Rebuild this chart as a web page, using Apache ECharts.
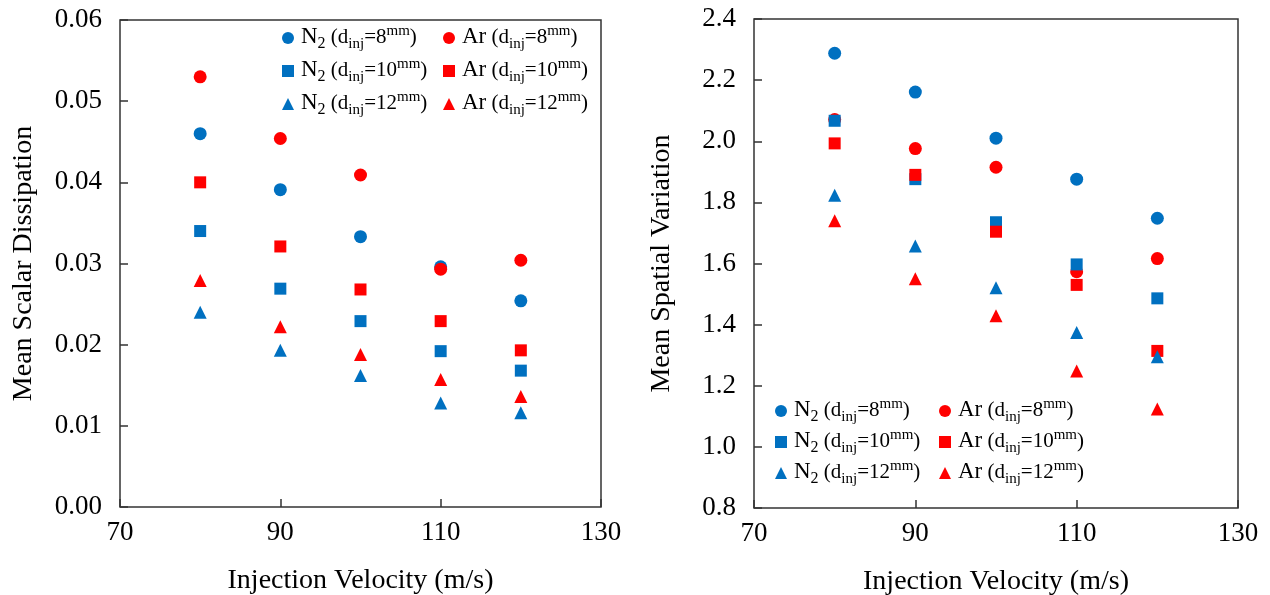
<!DOCTYPE html>
<html>
<head>
<meta charset="utf-8">
<script src="https://cdn.jsdelivr.net/npm/echarts@6/dist/echarts.min.js"></script>
<style>
  html, body { margin: 0; padding: 0; background: #fff; }
  #chart { width: 1270px; height: 595px; }
</style>
</head>
<body>
<div id="chart"></div>
<script>
// injection velocity (m/s)
const velocity = [80, 90, 100, 110, 120];

// left panel: mean scalar dissipation
const dissN2_8 = [0.0460, 0.0391, 0.0333, 0.0296, 0.0254];
const dissAr_8 = [0.0530, 0.0454, 0.0409, 0.0293, 0.0304];
const dissN2_10 = [0.0340, 0.0269, 0.0229, 0.0192, 0.0168];
const dissAr_10 = [0.0400, 0.0321, 0.0268, 0.0229, 0.0193];
const dissN2_12 = [0.0240, 0.0193, 0.0162, 0.0128, 0.0116];
const dissAr_12 = [0.0279, 0.0222, 0.0188, 0.0157, 0.0136];

// right panel: mean spatial variation
const varN2_8 = [2.288, 2.161, 2.010, 1.876, 1.748];
const varAr_8 = [2.071, 1.976, 1.915, 1.573, 1.616];
const varN2_10 = [2.067, 1.876, 1.735, 1.597, 1.486];
const varAr_10 = [1.993, 1.890, 1.704, 1.530, 1.314];
const varN2_12 = [1.823, 1.657, 1.521, 1.374, 1.295];
const varAr_12 = [1.740, 1.550, 1.429, 1.248, 1.124];

const BLUE = '#0070C0';
const RED = '#FF0000';
const FONT = 'Liberation Serif';

// series names -> gas, diameter
const seriesDefs = [
  { name: 'N2_8', gas: 'N', d: '8', color: BLUE, symbol: 'circle' },
  { name: 'Ar_8', gas: 'Ar', d: '8', color: RED, symbol: 'circle' },
  { name: 'N2_10', gas: 'N', d: '10', color: BLUE, symbol: 'rect' },
  { name: 'Ar_10', gas: 'Ar', d: '10', color: RED, symbol: 'rect' },
  { name: 'N2_12', gas: 'N', d: '12', color: BLUE, symbol: 'triangle' },
  { name: 'Ar_12', gas: 'Ar', d: '12', color: RED, symbol: 'triangle' }
];
const leftData = [dissN2_8, dissAr_8, dissN2_10, dissAr_10, dissN2_12, dissAr_12];
const rightData = [varN2_8, varAr_8, varN2_10, varAr_10, varN2_12, varAr_12];

function pairs(ys) {
  return velocity.map((v, i) => [v, ys[i]]);
}

// legend label with sub/superscripts
function legendLabel(name) {
  const def = seriesDefs.find(s => s.name === name);
  const gas = def.gas === 'N' ? '{big|N}{sub|2}' : '{big|Ar}';
  return gas + '{mid| (d}{inj|inj}{mid|=' + def.d + '}{sup|mm}{mid|)}';
}

const richText = {
  big: { fontFamily: FONT, fontSize: 23, color: '#000', verticalAlign: 'bottom', padding: [0, 0, 4, 0] },
  mid: { fontFamily: FONT, fontSize: 21, color: '#000', verticalAlign: 'bottom', padding: [0, 0, 4, 0] },
  sub: { fontFamily: FONT, fontSize: 16, color: '#000', verticalAlign: 'bottom', padding: [0, 0, 0, 0] },
  inj: { fontFamily: FONT, fontSize: 15, color: '#000', verticalAlign: 'bottom', padding: [0, 0, 0, 0] },
  sup: { fontFamily: FONT, fontSize: 15, color: '#000', verticalAlign: 'bottom', padding: [0, 0, 13, 0] }
};

function makeLegend(names, left, top, gap) {
  return {
    orient: 'vertical',
    left: left,
    top: top,
    data: names,
    itemWidth: 12,
    itemHeight: 12,
    itemGap: gap,
    padding: 0,
    selectedMode: false,
    formatter: legendLabel,
    textStyle: { rich: richText, padding: [0, 0, 0, 2] }
  };
}

const xAxisBase = {
  type: 'value',
  min: 70,
  max: 130,
  interval: 20,
  name: 'Injection Velocity (m/s)',
  nameLocation: 'middle',
  nameGap: 60,
  nameTextStyle: { fontFamily: FONT, fontSize: 28, color: '#000' },
  axisLine: { show: false },
  axisTick: { show: true, inside: true, length: 8, lineStyle: { color: '#333', width: 1.5 } },
  axisLabel: { fontFamily: FONT, fontSize: 27, color: '#000', margin: 12 },
  splitLine: { show: false }
};

const itemColor = c => ({ color: c, opacity: 1 });

const gridBase = { show: true, borderColor: '#333', borderWidth: 1.5, containLabel: false, outerBoundsMode: 'none' };

const option = {
  backgroundColor: '#fff',
  animation: false,
  grid: [
    Object.assign({ left: 120, top: 20, width: 481, height: 487 }, gridBase),
    Object.assign({ left: 754, top: 19, width: 484, height: 489 }, gridBase)
  ],
  xAxis: [
    Object.assign({ gridIndex: 0 }, xAxisBase),
    Object.assign({ gridIndex: 1 }, xAxisBase)
  ],
  yAxis: [
    {
      gridIndex: 0,
      type: 'value',
      min: 0,
      max: 0.06,
      interval: 0.01,
      name: 'Mean Scalar Dissipation',
      nameLocation: 'middle',
      nameGap: 82,
      nameTextStyle: { fontFamily: FONT, fontSize: 28, color: '#000' },
      axisLine: { show: false },
      axisTick: { show: true, inside: true, length: 8, lineStyle: { color: '#333', width: 1.5 } },
      axisLabel: { fontFamily: FONT, fontSize: 27, color: '#000', margin: 18, formatter: v => v.toFixed(2) },
      splitLine: { show: false }
    },
    {
      gridIndex: 1,
      type: 'value',
      min: 0.8,
      max: 2.4,
      interval: 0.2,
      name: 'Mean Spatial Variation',
      nameLocation: 'middle',
      nameGap: 78,
      nameTextStyle: { fontFamily: FONT, fontSize: 28, color: '#000' },
      axisLine: { show: false },
      axisTick: { show: true, inside: true, length: 8, lineStyle: { color: '#333', width: 1.5 } },
      axisLabel: { fontFamily: FONT, fontSize: 27, color: '#000', margin: 18, formatter: v => v.toFixed(1) },
      splitLine: { show: false }
    }
  ],
  legend: [
    makeLegend(['N2_8', 'N2_10', 'N2_12'], 282, 24, 5),
    makeLegend(['Ar_8', 'Ar_10', 'Ar_12'], 443, 24, 5),
    makeLegend(['N2_8', 'N2_10', 'N2_12'], 775, 397, 3),
    makeLegend(['Ar_8', 'Ar_10', 'Ar_12'], 939, 397, 3)
  ],
  series: []
};

seriesDefs.forEach((def, i) => {
  option.series.push({
    name: def.name,
    type: 'scatter',
    xAxisIndex: 0,
    yAxisIndex: 0,
    symbol: def.symbol,
    symbolSize: def.symbol === 'rect' ? 12 : 13,
    itemStyle: itemColor(def.color),
    data: pairs(leftData[i])
  });
});
seriesDefs.forEach((def, i) => {
  option.series.push({
    name: def.name,
    type: 'scatter',
    xAxisIndex: 1,
    yAxisIndex: 1,
    symbol: def.symbol,
    symbolSize: def.symbol === 'rect' ? 12 : 13,
    itemStyle: itemColor(def.color),
    data: pairs(rightData[i])
  });
});

const chart = echarts.init(document.getElementById('chart'));
chart.setOption(option);
</script>
</body>
</html>
